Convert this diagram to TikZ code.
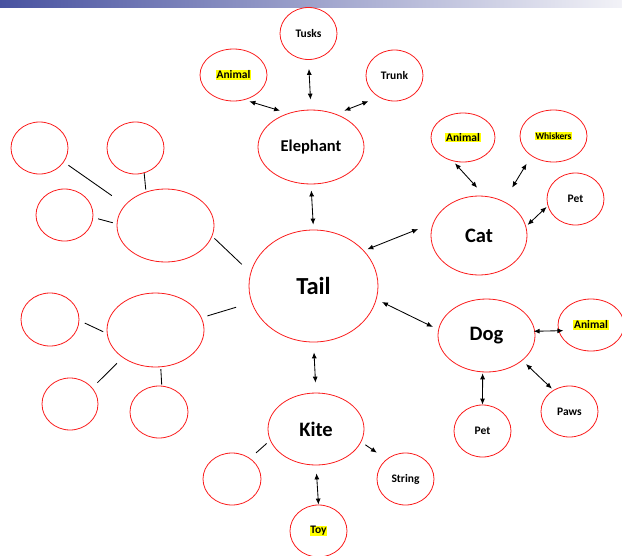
\documentclass[tikz,border=0pt]{standalone}
\usepackage{fontspec}
\setmainfont{Carlito}
\usepackage{tikz}
\usetikzlibrary{arrows.meta,shapes.geometric}
\definecolor{mapRed}{RGB}{250,28,28}
\definecolor{barBlue}{RGB}{72,82,160}
\definecolor{barPale}{RGB}{242,242,247}
\definecolor{hiYellow}{RGB}{255,255,0}
\setlength{\fboxsep}{0.6pt}
\newcommand{\marked}[1]{\colorbox{hiYellow}{#1}}

\begin{document}
\begin{tikzpicture}[x=1pt,y=-1pt,
    bubble/.style={ellipse, draw=mapRed, line width=0.8pt, inner sep=0pt,
        text=black, font=\bfseries\fontsize{11.5}{13}\selectfont},
    leaf/.style={bubble, minimum width=57pt, minimum height=52pt},
    hub/.style={bubble, minimum width=97pt, minimum height=73pt,
        font=\bfseries\fontsize{20.5}{24}\selectfont},
    link/.style={draw=black, line width=0.85pt},
    dblArrow/.style={link, {Latex[length=6pt,width=5pt]}-{Latex[length=6pt,width=5pt]}},
    oneArrow/.style={link, -{Latex[length=6pt,width=5pt]}}]

    \useasboundingbox (0,0) rectangle (622,555);
    \clip (0,0) rectangle (622,555);

    % title bar
    \shade[left color=barBlue, right color=barPale] (0,0) rectangle (622,7.5);

    % =========================
    % centre and elephant branch
    % =========================
    \node[bubble, minimum width=129pt, minimum height=112pt,
        font=\bfseries\fontsize{24.5}{28}\selectfont] (tail) at (313.5,286) {Tail};

    \node[hub, minimum width=106pt, minimum height=74pt,
        font=\bfseries\fontsize{16.5}{19}\selectfont] (elephant) at (311,147) {Elephant};
    \node[leaf] (tusks) at (308.5,33.5) {Tusks};
    \node[leaf, minimum width=67pt] (elAnimal) at (233.5,75) {\marked{Animal}};
    \node[leaf, minimum height=51pt] (trunk) at (394.5,75.5) {Trunk};

    \draw[dblArrow, shorten <=9pt, shorten >=10pt] (tusks.south) -- (elephant.north);
    \draw[dblArrow, shorten <=5pt, shorten >=8.5pt] (elAnimal.-66) -- (elephant.124);
    \draw[dblArrow, shorten <=11pt, shorten >=9pt] (trunk.-126) -- (elephant.53);
    \draw[dblArrow, shorten <=6pt, shorten >=5pt] (elephant.south) -- (tail.north);

    % =========================
    % cat branch
    % =========================
    \node[hub, minimum width=96pt, minimum height=79pt] (cat) at (479,235.5) {Cat};
    \node[leaf, minimum width=64pt, minimum height=49pt] (catAnimal) at (463,137.5) {\marked{Animal}};
    \node[leaf, minimum width=67pt, font=\bfseries\fontsize{9.5}{11}\selectfont]
        (whiskers) at (553.5,136) {\marked{Whiskers}};
    \node[leaf] (catPet) at (575.5,199) {Pet};

    \draw[dblArrow, shorten <=3.5pt, shorten >=16pt] (tail.35) -- (cat.165);
    \draw[dblArrow, shorten <=3pt, shorten >=11pt] (catAnimal.-113) -- (cat.82);
    \draw[dblArrow, shorten <=9pt, shorten >=16pt] (whiskers.-138) -- (cat.54);
    \draw[dblArrow, shorten <=1.5pt, shorten >=2pt] (catPet.-166) -- (cat.11);

    % =========================
    % dog branch
    % =========================
    \node[hub] (dog) at (486.5,335.5) {Dog};
    \node[leaf, minimum width=66pt] (dogAnimal) at (591,325) {\marked{Animal}};
    \node[leaf, minimum height=51pt] (paws) at (569.5,411.5) {Paws};
    \node[leaf] (dogPet) at (482.5,431) {Pet};

    \draw[dblArrow, shorten <=6pt, shorten >=6pt] (tail.-12) -- (dog.173);
    \draw[dblArrow, shorten <=-1.5pt, shorten >=-5pt] (dog.5) -- (dogAnimal.190);
    \draw[dblArrow, shorten <=5pt, shorten >=2pt] (dog.-35) -- (paws.127);
    \draw[dblArrow, shorten <=1pt] (dog.-96) -- (dogPet.north);

    % =========================
    % kite branch
    % =========================
    \node[hub, minimum width=96pt, minimum height=72pt] (kite) at (316,429) {Kite};
    \node[leaf, minimum width=58pt] (kiteBlank) at (232,479) {};
    \node[leaf] (string) at (405.5,479) {String};
    \node[leaf] (toy) at (318.5,531) {\marked{Toy}};

    \draw[dblArrow, shorten <=10pt, shorten >=10pt] (tail.south) -- (kite.north);
    \draw[oneArrow, shorten <=5pt, shorten >=11.5pt] (kite.-16) -- (string.134);
    \draw[link, shorten <=4.5pt, shorten >=8pt] (kite.194) -- (kiteBlank.49);
    \draw[dblArrow, shorten <=8pt] (kite.south) -- (toy.north);

    % =========================
    % empty branches on the left
    % =========================
    \node[hub] (upperHub) at (165.5,225.5) {};
    \node[leaf] (upA) at (39.5,148) {};
    \node[leaf] (upB) at (135.5,148) {};
    \node[leaf] (upC) at (64.5,215) {};

    \draw[link, shorten <=5.5pt, shorten >=16pt] (upA.-30) -- (upperHub.153);
    \draw[link, shorten >=2pt] (upB.-71) -- (upperHub.120);
    \draw[link, shorten <=5pt, shorten >=4pt] (upC.-5) -- (upperHub.178);
    \draw[link, shorten <=3pt, shorten >=12pt] (upperHub.-13) -- (tail.168);

    \node[hub, minimum height=74pt] (lowerHub) at (155.5,330) {};
    \node[leaf, minimum width=58pt, minimum height=53pt] (lowA) at (50,319.5) {};
    \node[leaf, minimum width=56pt] (lowB) at (70,404) {};
    \node[leaf, minimum width=58pt] (lowC) at (159,412) {};

    \draw[link, shorten <=16pt, shorten >=6pt] (tail.195) -- (lowerHub.15);
    \draw[link, shorten <=6pt, shorten >=4pt] (lowA.-2) -- (lowerHub.184);
    \draw[link, shorten <=7pt, shorten >=8pt] (lowB.36) -- (lowerHub.220);
    \draw[link, shorten <=2pt, shorten >=1pt] (lowerHub.-82) -- (lowC.84);

\end{tikzpicture}
\end{document}
